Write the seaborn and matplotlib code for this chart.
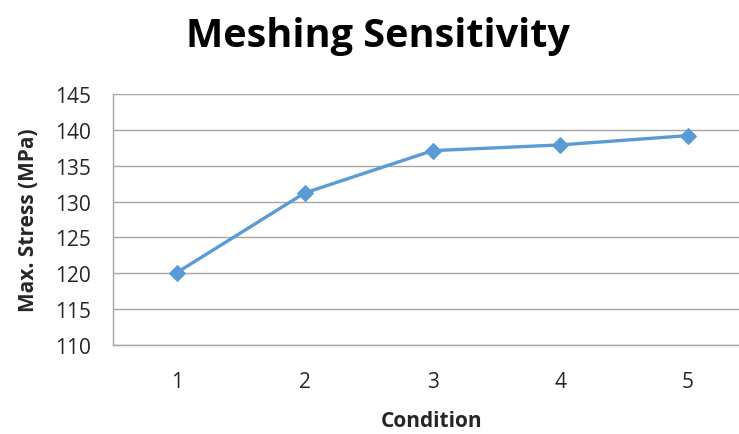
import pandas as pd
import matplotlib.pyplot as plt
import seaborn as sns

# Data
conditions = [1, 2, 3, 4, 5]
max_stress = [120.1, 131.2, 137.1, 137.9, 139.2]
y_ticks = [110, 115, 120, 125, 130, 135, 140, 145]

df = pd.DataFrame({'Condition': conditions, 'Max. Stress (MPa)': max_stress})

sns.set_style('white')
plt.rcParams['font.family'] = ['Open Sans', 'DejaVu Sans']

fig = plt.figure(figsize=(7.39, 4.35), dpi=100)
# plot area runs past the right edge, as in the reference
ax = fig.add_axes([113 / 739, 89 / 435, 639 / 739, 251 / 435])

sns.lineplot(data=df, x='Condition', y='Max. Stress (MPa)', ax=ax,
             color='#5B9BD5', linewidth=2.4, marker='D', markersize=8,
             markeredgecolor='#5B9BD5')

ax.set_xlim(0.5, 5.5)
ax.set_ylim(110, 145)
ax.set_xticks(conditions)
ax.set_yticks(y_ticks)
ax.grid(axis='y', color='#a6a6a6', linewidth=1)
ax.set_axisbelow(True)

for side in ['top', 'right']:
    ax.spines[side].set_visible(False)
for side in ['left', 'bottom']:
    ax.spines[side].set_color('#a6a6a6')
    ax.spines[side].set_linewidth(1)

ax.tick_params(axis='both', length=0, labelsize=15, colors='#262626')
ax.tick_params(axis='y', pad=16)
ax.tick_params(axis='x', pad=19)

ax.set_xlabel('Condition', fontsize=15, fontweight='bold', va='center')
ax.xaxis.set_label_coords(0.4992, -0.299)
ax.set_ylabel('Max. Stress (MPa)', fontsize=15, fontweight='bold', va='center')
ax.yaxis.set_label_coords(-0.133, 0.502)

fig.text(378 / 739, 1 - 47 / 435, 'Meshing Sensitivity', fontsize=28.5,
         fontweight='bold', ha='center', va='baseline', color='black')

plt.savefig('out.png', dpi=100)
plt.close()
